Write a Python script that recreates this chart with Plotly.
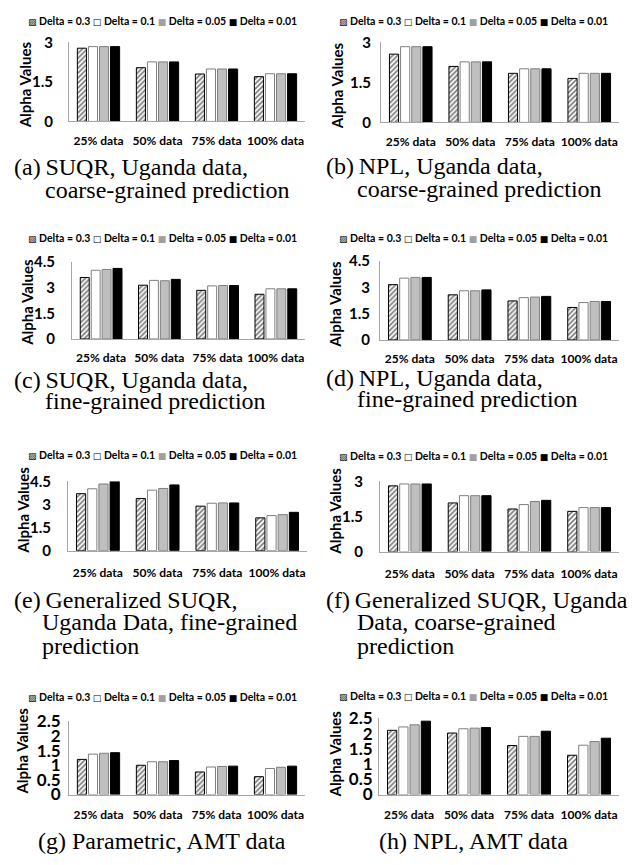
import plotly.graph_objects as go

# The page body has an 8px default margin, so the figure is 8px smaller and
# every reference pixel position is shifted by that offset.
PAGE_W, PAGE_H, OFF = 644, 865, 8
W, H = PAGE_W - OFF, PAGE_H - OFF

categories = ["25% data", "50% data", "75% data", "100% data"]
series_names = ["Delta = 0.3", "Delta = 0.1", "Delta = 0.05", "Delta = 0.01"]
y_title = "Alpha Values"

# values per panel, one list per series (Delta = 0.3, 0.1, 0.05, 0.01)
a_values = [[2.78, 2.04, 1.80, 1.70], [2.84, 2.26, 1.99, 1.81], [2.84, 2.26, 1.99, 1.81], [2.84, 2.26, 1.99, 1.81]]
b_values = [[2.56, 2.10, 1.84, 1.65], [2.84, 2.27, 2.01, 1.84], [2.84, 2.27, 2.01, 1.84], [2.84, 2.27, 2.01, 1.84]]
c_values = [[3.59, 3.14, 2.84, 2.61], [4.01, 3.42, 3.10, 2.93], [4.06, 3.40, 3.12, 2.93], [4.12, 3.48, 3.12, 2.93]]
d_values = [[3.15, 2.57, 2.22, 1.85], [3.52, 2.80, 2.41, 2.13], [3.56, 2.80, 2.44, 2.19], [3.56, 2.85, 2.48, 2.19]]
e_values = [[3.70, 3.39, 2.89, 2.13], [4.02, 3.93, 3.08, 2.28], [4.33, 4.04, 3.10, 2.34], [4.50, 4.27, 3.10, 2.49]]
f_values = [[2.81, 2.08, 1.82, 1.72], [2.89, 2.39, 2.01, 1.88], [2.89, 2.39, 2.14, 1.88], [2.89, 2.39, 2.19, 1.88]]
g_values = [[1.20, 1.00, 0.77, 0.61], [1.38, 1.12, 0.94, 0.89], [1.41, 1.12, 0.96, 0.93], [1.43, 1.16, 0.97, 0.97]]
h_values = [[2.11, 2.02, 1.61, 1.29], [2.22, 2.16, 1.91, 1.62], [2.29, 2.18, 1.91, 1.74], [2.41, 2.20, 2.08, 1.85]]

ticks_3 = [0, 1.5, 3]
ticks_45 = [0, 1.5, 3, 4.5]
ticks_25 = [0, 0.5, 1, 1.5, 2, 2.5]

a_caption = ["(a)\u2009SUQR, Uganda data,", "coarse-grained prediction"]
b_caption = ["(b)\u2009NPL, Uganda data,", "coarse-grained prediction"]
c_caption = ["(c)\u2009SUQR, Uganda data,", "fine-grained prediction"]
d_caption = ["(d)\u2009NPL, Uganda data,", "fine-grained prediction"]
e_caption = ["(e)\u2009Generalized SUQR,", "Uganda Data, fine-grained", "prediction"]
f_caption = ["(f)\u2009Generalized SUQR, Uganda", "Data, coarse-grained", "prediction"]
g_caption = ["(g) Parametric, AMT data"]
h_caption = ["(h) NPL, AMT data"]

# layout (reference pixels): plot box, tick setup, y-title, legend and caption placement
panels = [
    dict(v=a_values, t=ticks_3, box=(69, 305, 32, 113), ytl=12, yfs=15, xtl=8, ttl=(25, 76), leg=(162, 10), cap=a_caption, cx=(12, 43), cy=[160, 183], center=False),
    dict(v=b_values, t=ticks_3, box=(381, 619, 32, 114), ytl=6, yfs=15, xtl=8, ttl=(337, 77), leg=(473, 10), cap=b_caption, cx=(324, 355), cy=[159, 182], center=False),
    dict(v=c_values, t=ticks_45, box=(72, 305, 257, 336), ytl=13, yfs=15, xtl=8, ttl=(27, 299), leg=(162, 233), cap=c_caption, cx=(12, 43), cy=[378, 400], center=False),
    dict(v=d_values, t=ticks_45, box=(380, 619, 256, 337), ytl=6, yfs=15, xtl=8, ttl=(335, 301), leg=(473, 232), cap=d_caption, cx=(324, 355), cy=[376, 398], center=False),
    dict(v=e_values, t=ticks_45, box=(68, 307, 482, 553), ytl=13, yfs=15, xtl=11, ttl=(23, 512), leg=(162, 455), cap=e_caption, cx=(12, 40), cy=[604, 626, 651], center=False),
    dict(v=f_values, t=ticks_3, box=(380, 619, 482, 554), ytl=13, yfs=15, xtl=11, ttl=(335, 513), leg=(473, 456), cap=f_caption, cx=(324, 355), cy=[604, 626, 651], center=False),
    dict(v=g_values, t=ticks_25, box=(69, 305, 728, 803), ytl=4, yfs=17, xtl=9, ttl=(22, 759), leg=(162, 703), cap=g_caption, cx=(162, 162), cy=[851], center=True),
    dict(v=h_values, t=ticks_25, box=(379, 619, 725, 803), ytl=2, yfs=17, xtl=9, ttl=(335, 762), leg=(473, 702), cap=h_caption, cx=(473, 473), cy=[851], center=True),
]


def px_x(px):
    return (px - OFF) / W


def px_y(py):
    return 1 - (py - OFF) / H


SANS = "Lato"
SERIF = "Liberation Serif"
AXIS_COLOR = "#a6a6a6"

styles = [
    dict(color="white", line=dict(color="#000000", width=1),
         pattern=dict(shape="/", fgcolor="black", bgcolor="white", size=3.5, solidity=0.5)),
    dict(color="white", line=dict(color="#7f7f7f", width=1)),
    dict(color="#bfbfbf", line=dict(color="#7f7f7f", width=1)),
    dict(color="black", line=dict(color="#000000", width=1)),
]

glyphs = [
    '<span style="font-family:DejaVu Sans;font-size:9px">\u25a8</span>',
    '<span style="font-family:DejaVu Sans;font-size:9px">\u25a1</span>',
    '<span style="font-family:DejaVu Sans;font-size:9px;color:#a0a0a0">\u25a0</span>',
    '<span style="font-family:DejaVu Sans;font-size:9px">\u25a0</span>',
]
legend_text = " ".join(g + " " + n for g, n in zip(glyphs, series_names))

fig = go.Figure()
annotations = []
layout = {}

for i, p in enumerate(panels):
    n = "" if i == 0 else str(i + 1)
    for s in range(4):
        fig.add_trace(go.Bar(
            x=categories, y=p["v"][s], name=series_names[s],
            xaxis="x" + n, yaxis="y" + n, marker=styles[s], showlegend=False,
        ))
    x0, x1, y0, y1 = p["box"]
    layout["xaxis" + n] = dict(
        domain=[px_x(x0), px_x(x1)], anchor="y" + n, showline=True, linecolor=AXIS_COLOR,
        linewidth=1, showgrid=False, zeroline=False, ticks="outside", ticklen=p["xtl"],
        tickcolor="rgba(0,0,0,0)", tickangle=0,
        tickfont=dict(family=SANS, size=12, color="black", weight=700),
        fixedrange=True,
    )
    layout["yaxis" + n] = dict(
        domain=[px_y(y1), px_y(y0)], anchor="x" + n, range=[0, max(p["t"])],
        tickvals=p["t"], ticktext=[f"{t:g}" for t in p["t"]],
        showline=True, linecolor=AXIS_COLOR, linewidth=1, showgrid=False, zeroline=False,
        ticks="outside", ticklen=p["ytl"], tickcolor="rgba(0,0,0,0)",
        tickfont=dict(family=SANS, size=p["yfs"], color="black", weight=700),
        fixedrange=True,
    )
    tx, ty = p["ttl"]
    annotations.append(dict(
        text=y_title, x=px_x(tx), y=px_y(ty), xref="paper", yref="paper", textangle=-90,
        xanchor="center", yanchor="middle", showarrow=False,
        font=dict(family=SANS, size=15, color="black", weight=700),
    ))
    lx, ly = p["leg"]
    annotations.append(dict(
        text=legend_text, x=px_x(lx), y=px_y(ly), xref="paper", yref="paper",
        xanchor="center", yanchor="middle", showarrow=False,
        font=dict(family=SANS, size=10.5, color="black", weight=700),
    ))
    for k, line in enumerate(p["cap"]):
        cx = p["cx"][0] if k == 0 else p["cx"][1]
        annotations.append(dict(
            text=line, x=px_x(cx), y=px_y(p["cy"][k]), xref="paper", yref="paper",
            xanchor="center" if p["center"] else "left", yanchor="middle", showarrow=False,
            font=dict(family=SERIF, size=24, color="black"),
        ))

fig.update_layout(
    width=W, height=H, margin=dict(l=0, r=0, t=0, b=0),
    paper_bgcolor="white", plot_bgcolor="white",
    barmode="group", bargap=0.25, bargroupgap=0.18,
    annotations=annotations, showlegend=False,
    **layout,
)

fig.write_html("out.html")
